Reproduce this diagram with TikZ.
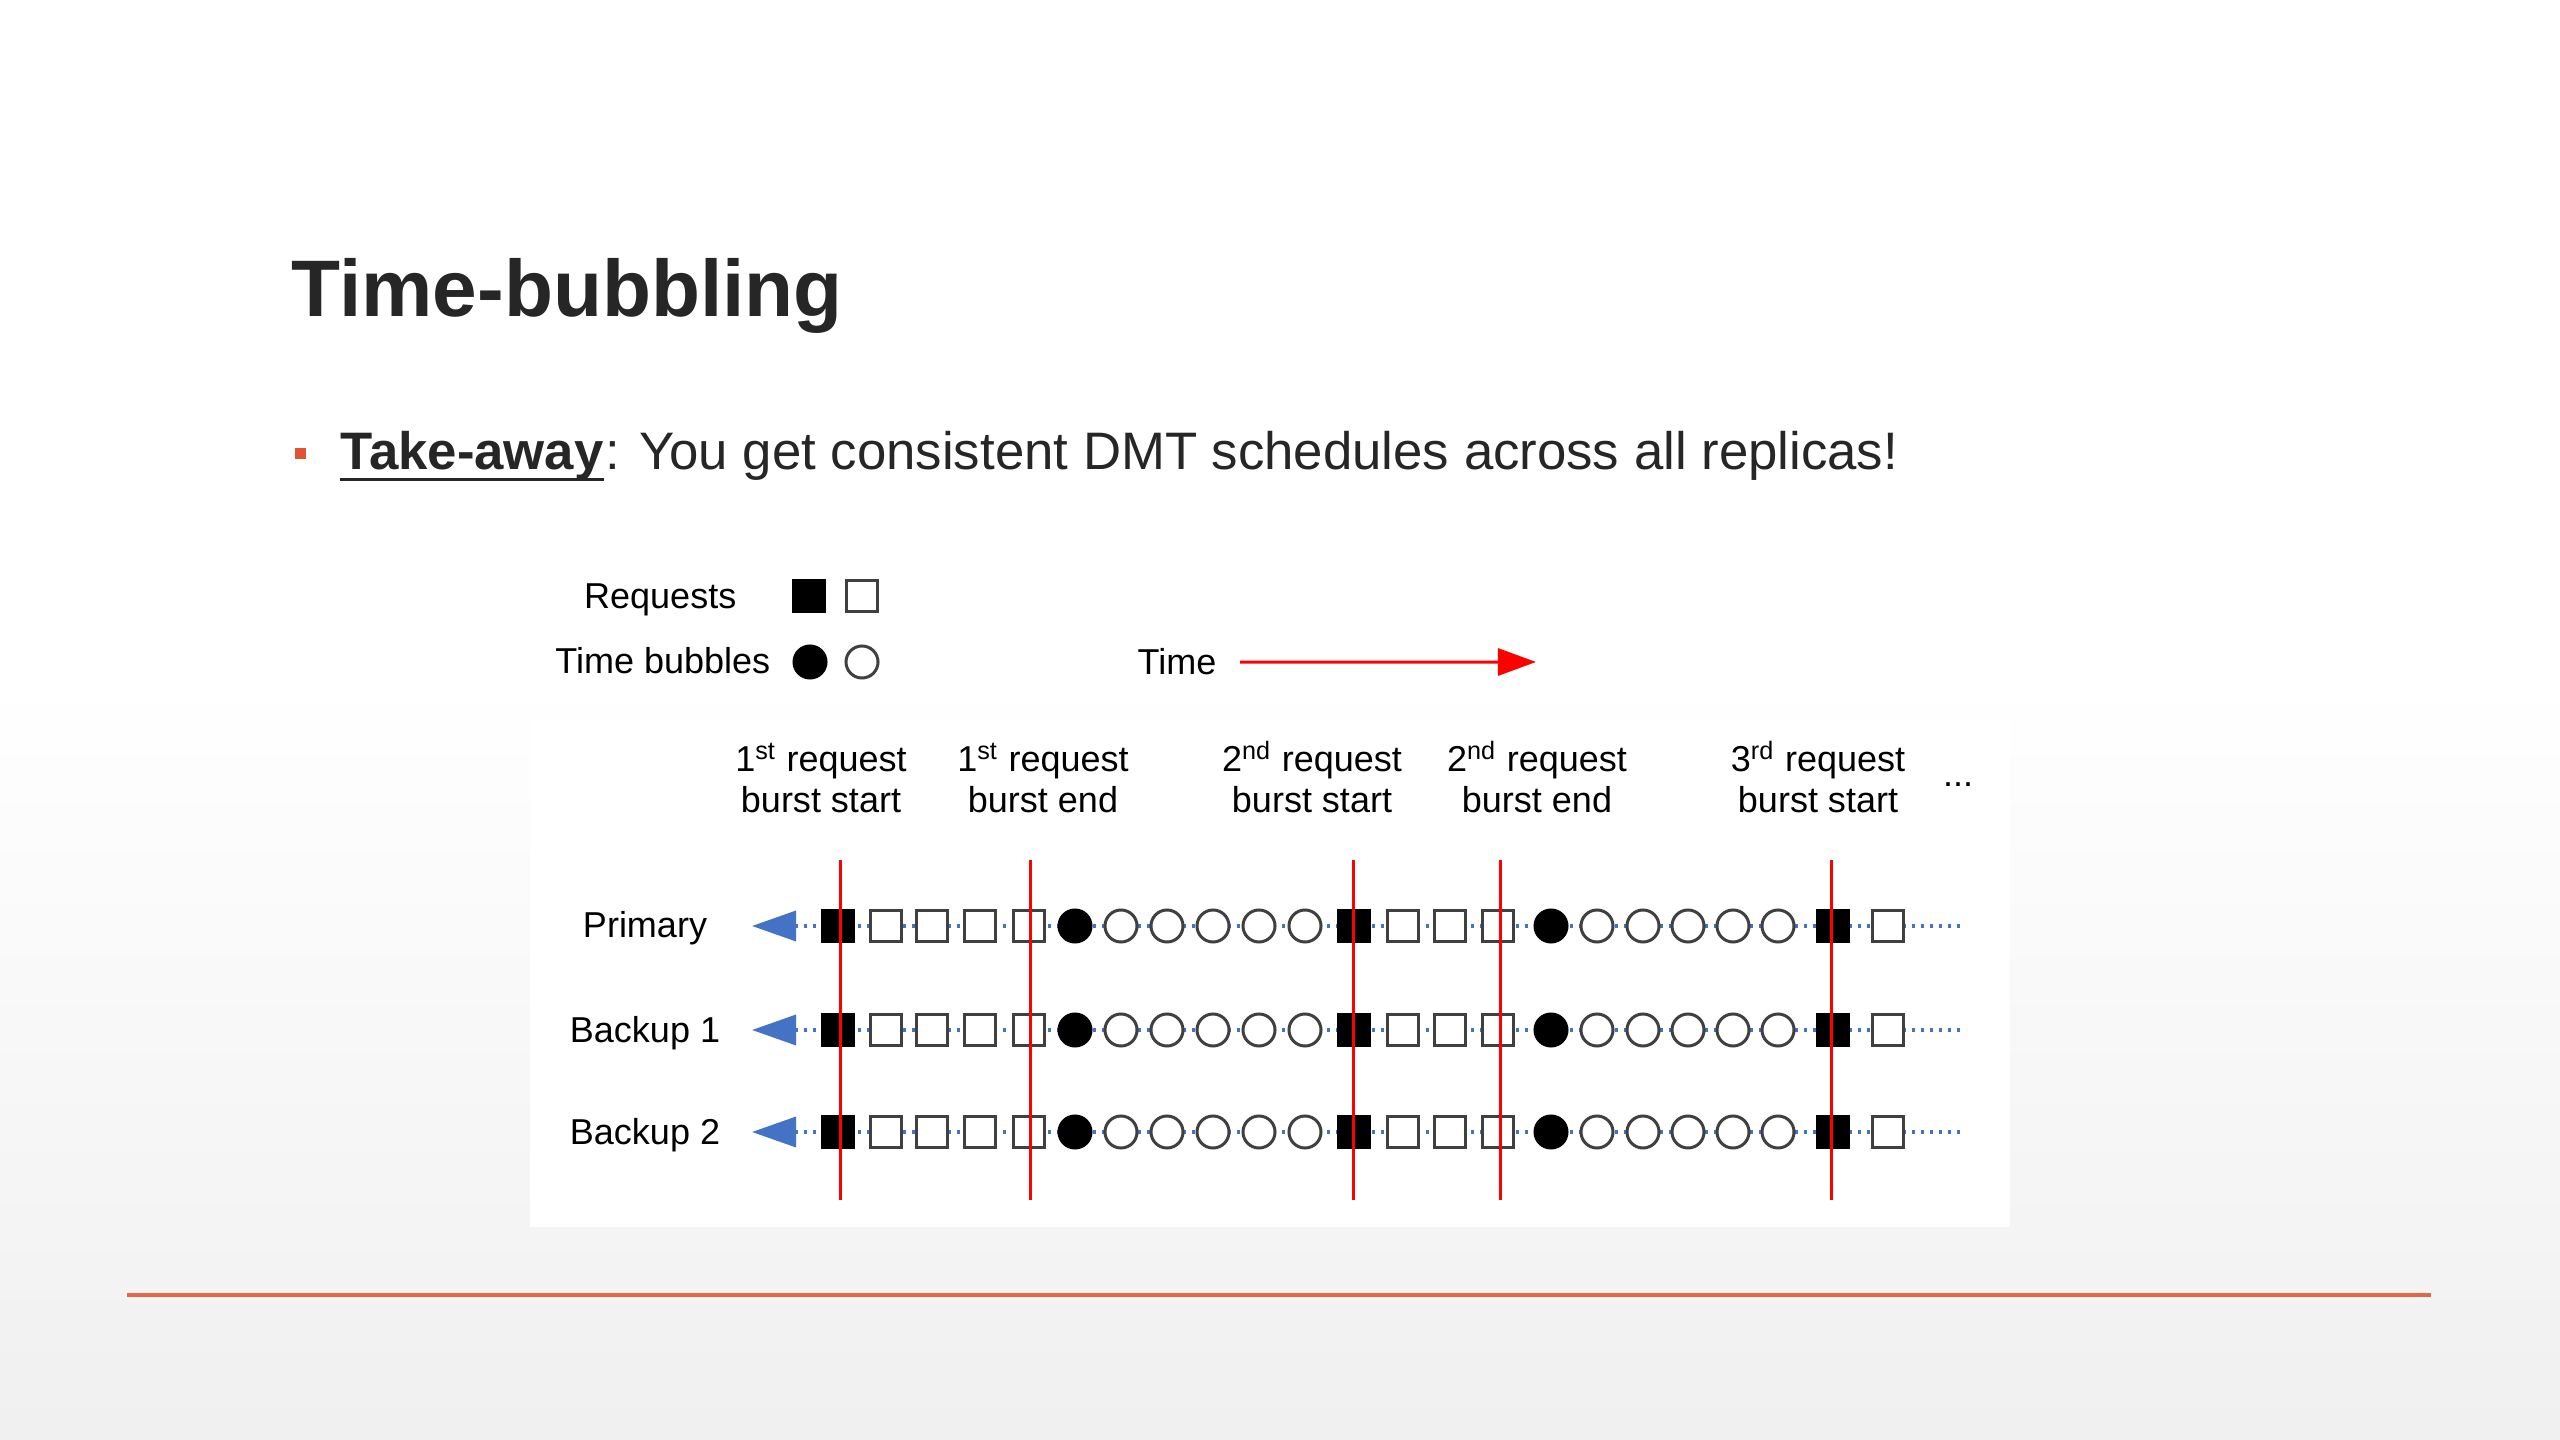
\documentclass[tikz,border=0pt]{standalone}
\usepackage{fontspec}
\setmainfont{Liberation Sans}
\usetikzlibrary{arrows.meta}

\definecolor{slideorange}{RGB}{224,104,72}
\definecolor{bulletorange}{RGB}{222,84,52}
\definecolor{titlegray}{RGB}{38,38,38}
\definecolor{rowblue}{RGB}{68,114,196}
\definecolor{outlinegray}{RGB}{64,64,64}

\tikzset{
  reqfull/.style={draw=black, fill=black, line width=0.03cm, minimum width=0.31cm, minimum height=0.31cm, inner sep=0},
  reqempty/.style={reqfull, draw=outlinegray, fill=white},
  bubfull/.style={circle, draw=black, fill=black, line width=0.03cm, minimum size=0.32cm, inner sep=0},
  bubempty/.style={bubfull, draw=outlinegray, fill=white},
  lbl/.style={font=\fontsize{10.24}{11.67}\selectfont, inner sep=0},
  timeline/.style={rowblue, line width=0.035cm, dash pattern=on 0.03cm off 0.06cm, -{Triangle[length=0.44cm,width=0.30cm]}},
  burst/.style={red, line width=0.03cm},
}

\begin{document}
\begin{tikzpicture}[x=0.01cm, y=-0.01cm]
\useasboundingbox (0,0) rectangle (2560,1440);
% slide background
\fill[white] (0,0) rectangle (2560,1440);
\shade[top color=white, bottom color=black!6] (0,680) rectangle (2560,1440);
\fill[white] (530,720) rectangle (2010,1227);
\draw[slideorange, line width=0.04cm] (127,1295) -- (2431,1295);

% title and take-away
\node (title) [anchor=base west, inner sep=0, text=titlegray, font=\fontsize{22.8}{27}\selectfont\bfseries] at (291,317) {Time-bubbling};
\fill[bulletorange] (295,448) rectangle (306,459);
\node (take) [anchor=base west, inner sep=0, text=titlegray, font=\fontsize{15}{18}\selectfont\bfseries] at (340,470) {Take-away};
\node (msg) [anchor=base west, inner sep=0, text=titlegray, font=\fontsize{15}{18}\selectfont] at (take.base east) {: You get consistent DMT schedules across all replicas!};
\draw[titlegray, line width=0.03cm] ([yshift=-0.095cm]take.base west) -- ([yshift=-0.095cm]take.base east);

% legend
\node (req) [lbl, anchor=base east] at (737,609) {Requests};
\node (reqF) [reqfull] at (809,596) {};
\node (reqE) [reqempty] at (862,596) {};
\node (bub) [lbl, anchor=base east] at (771,674) {Time bubbles};
\node (bubF) [bubfull] at (810,662) {};
\node (bubE) [bubempty] at (862,662) {};
\node (time) [lbl, anchor=base east] at (1217,675) {Time};
\coordinate (timeend) at (1536,662);
\draw[red, line width=0.03cm, -{Triangle[length=0.38cm,width=0.27cm]}, shorten <=0.23cm] (time) -- (timeend);

% burst labels
\foreach \cx/\n/\ord/\what [count=\i] in {821/1/st/start, 1043/1/st/end, 1312/2/nd/start, 1537/2/nd/end, 1818/3/rd/start}
  \node (col\i) [lbl, align=center, anchor=base] at (\cx,813) {\n\textsuperscript{\ord} request\\burst \what};
\node (more) [lbl, anchor=base] at (1958,787) {...};

% replicas
\foreach \ry/\rname/\rlab in {926/P/Primary, 1030/Bone/Backup 1, 1132/Btwo/Backup 2} {
  \node (lbl\rname) [lbl, anchor=base] at (645,\ry+12) {\rlab};
  \coordinate (start\rname) at (752,\ry);
  \coordinate (end\rname) at (1960,\ry);
  \draw[timeline] (end\rname) -- (start\rname);
  \foreach \sx/\kind [count=\k] in {838/reqfull, 886/reqempty, 932/reqempty, 980/reqempty, 1029/reqempty,
      1075/bubfull, 1121/bubempty, 1167/bubempty, 1213/bubempty, 1259/bubempty, 1305/bubempty,
      1354/reqfull, 1403/reqempty, 1450/reqempty, 1498/reqempty,
      1551/bubfull, 1597/bubempty, 1643/bubempty, 1688/bubempty, 1733/bubempty, 1778/bubempty,
      1833/reqfull, 1888/reqempty}
    \node (\rname-\k) [\kind] at (\sx,\ry) {};
}

% burst boundaries
\foreach \bx [count=\j] in {840,1030,1353,1500,1831} {
  \coordinate (cut\j top) at (\bx,860);
  \coordinate (cut\j bot) at (\bx,1200);
  \draw[burst] (cut\j top) -- (cut\j bot);
}
\end{tikzpicture}
\end{document}
